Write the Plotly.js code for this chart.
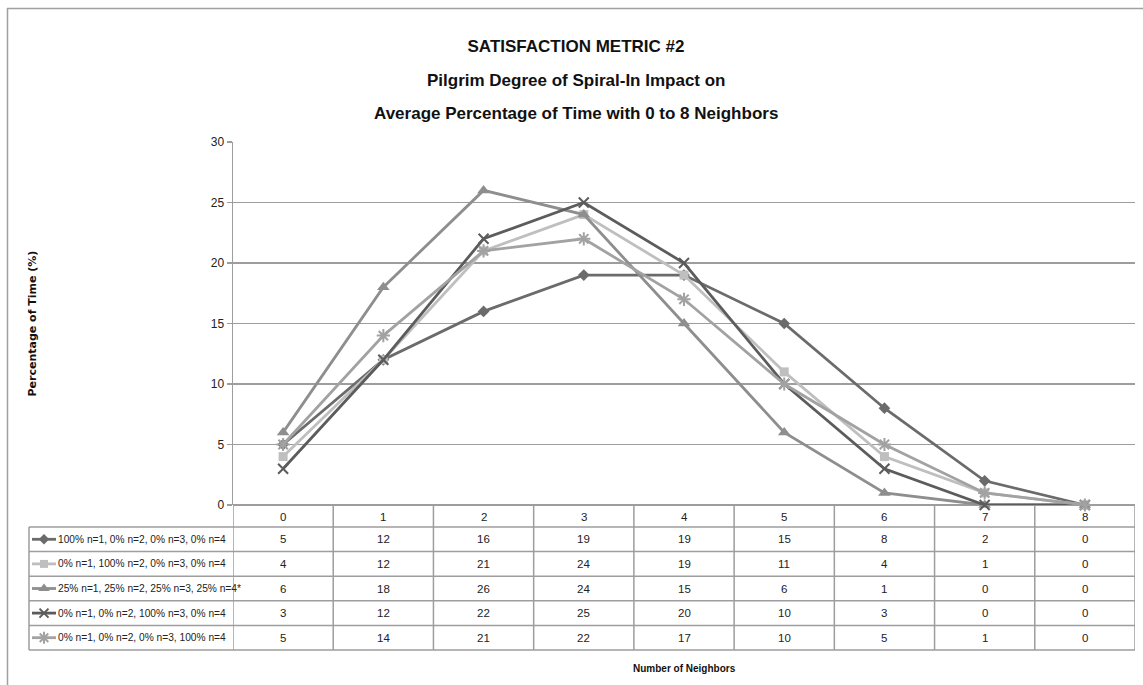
<!DOCTYPE html>
<html>
<head>
<meta charset="utf-8">
<script src="https://cdn.plot.ly/plotly-3.0.1.min.js"></script>
<style>html,body{margin:0;padding:0;background:#fff;}#chart{width:1143px;height:685px;}</style>
</head>
<body>
<div id="chart"></div>
<script>
// ---------- data ----------
const categories = [0, 1, 2, 3, 4, 5, 6, 7, 8];
const seriesNames = [
  "100% n=1, 0% n=2, 0% n=3, 0% n=4",
  "0% n=1, 100% n=2, 0% n=3, 0% n=4",
  "25% n=1, 25% n=2, 25% n=3, 25% n=4*",
  "0% n=1, 0% n=2, 100% n=3, 0% n=4",
  "0% n=1, 0% n=2, 0% n=3, 100% n=4"
];
const s1 = [5, 12, 16, 19, 19, 15, 8, 2, 0];
const s2 = [4, 12, 21, 24, 19, 11, 4, 1, 0];
const s3 = [6, 18, 26, 24, 15, 6, 1, 0, 0];
const s4 = [3, 12, 22, 25, 20, 10, 3, 0, 0];
const s5 = [5, 14, 21, 22, 17, 10, 5, 1, 0];
const yTicks = [0, 5, 10, 15, 20, 25, 30];
const titleLines = ["SATISFACTION METRIC #2", "Pilgrim Degree of Spiral-In Impact on", "Average Percentage of Time with 0 to 8 Neighbors"];
const xTitle = "Number of Neighbors";
const yTitle = "Percentage of Time (%)";

// ---------- styles ----------
const seriesValues = [s1, s2, s3, s4, s5];
const colors = ["#6b6b6b", "#bfbfbf", "#8e8e8e", "#5c5c5c", "#a2a2a2"];
const symbols = ["diamond", "square", "triangle-up", "x-thin-open", "asterisk-open"];
const sizes = [9, 9, 11, 10, 11];
const W = 1143, H = 685;
const PL = 233, PR = 1135, PT = 142, PB = 505;
const gridColor = "#9d9d9d";
const sans = "Liberation Sans, Arial, sans-serif";

function markerFor(i, size) {
  const open = symbols[i].indexOf("open") >= 0;
  return {
    symbol: symbols[i], size: size, color: colors[i],
    line: {color: colors[i], width: open ? 2 : 0}
  };
}

const traces = [];
seriesValues.forEach((vals, i) => {
  traces.push({
    type: "scatter", mode: "lines+markers", x: categories, y: vals,
    name: seriesNames[i], xaxis: "x", yaxis: "y",
    line: {color: colors[i], width: 2.8},
    marker: markerFor(i, sizes[i]),
    cliponaxis: false, hoverinfo: "x+y+name", showlegend: false
  });
});

// ---------- table geometry ----------
const headerBottom = 527;
const rowH = 24.6;
const tableLeft = 29;
const shapes = [];
const annotations = [];

// chart border (top/left)
shapes.push({type: "line", xref: "x2", yref: "y2", x0: 7, x1: W, y0: 8.5, y1: 8.5, line: {color: "#a0a0a0", width: 1.5}});
shapes.push({type: "line", xref: "x2", yref: "y2", x0: 7.5, x1: 7.5, y0: 8, y1: H, line: {color: "#a0a0a0", width: 1.5}});

// horizontal row lines
for (let r = 0; r <= seriesNames.length; r++) {
  const y = headerBottom + r * rowH;
  shapes.push({type: "line", xref: "x2", yref: "y2", x0: tableLeft, x1: PR, y0: y, y1: y, line: {color: gridColor, width: 1.5}});
}
// left border of legend column
shapes.push({type: "line", xref: "x2", yref: "y2", x0: tableLeft, x1: tableLeft, y0: headerBottom, y1: headerBottom + seriesNames.length * rowH, line: {color: gridColor, width: 1.5}});
// vertical column lines (category boundaries)
for (let c = 0; c <= categories.length; c++) {
  shapes.push({type: "line", xref: "x", yref: "y2", x0: c - 0.5, x1: c - 0.5, y0: PB, y1: headerBottom + seriesNames.length * rowH, line: {color: gridColor, width: 1.5}});
}

// cell values and legend labels
seriesValues.forEach((vals, i) => {
  const yc = headerBottom + (i + 0.5) * rowH;
  vals.forEach((v, c) => {
    annotations.push({xref: "x", yref: "y2", x: categories[c], y: yc, text: String(v), showarrow: false,
      font: {family: sans, size: 11.5, color: "#222"}, xanchor: "center", yanchor: "middle"});
  });
  annotations.push({xref: "x2", yref: "y2", x: 56, y: yc, text: seriesNames[i], showarrow: false,
    font: {family: sans, size: 10.2, color: "#222"}, xanchor: "left", yanchor: "middle"});
  // legend swatch line + marker
  shapes.push({type: "line", xref: "x2", yref: "y2", x0: 32, x1: 56, y0: yc, y1: yc, line: {color: colors[i], width: 2.8}});
  traces.push({
    type: "scatter", mode: "markers", x: [44], y: [yc], xaxis: "x2", yaxis: "y2",
    marker: markerFor(i, sizes[i] - 1), cliponaxis: false, hoverinfo: "skip", showlegend: false
  });
});

// header labels (categories)
categories.forEach((c) => {
  annotations.push({xref: "x", yref: "y2", x: c, y: (PB + headerBottom) / 2 + 1, text: String(c), showarrow: false,
    font: {family: sans, size: 11.5, color: "#222"}, xanchor: "center", yanchor: "middle"});
});

// subtitle lines
annotations.push({xref: "x2", yref: "y2", x: 576, y: 80, text: "<b>" + titleLines[1] + "</b>", showarrow: false,
  font: {family: sans, size: 17, color: "#111"}, xanchor: "center", yanchor: "middle"});
annotations.push({xref: "x2", yref: "y2", x: 576, y: 113, text: "<b>" + titleLines[2] + "</b>", showarrow: false,
  font: {family: sans, size: 17, color: "#111"}, xanchor: "center", yanchor: "middle"});
// axis titles
annotations.push({xref: "x2", yref: "y2", x: (PL + PR) / 2, y: 668, text: "<b>" + xTitle + "</b>", showarrow: false,
  font: {family: sans, size: 10, color: "#111"}, xanchor: "center", yanchor: "middle"});
annotations.push({xref: "x2", yref: "y2", x: 32, y: (PT + PB) / 2, text: "<b>" + yTitle + "</b>", showarrow: false, textangle: -90,
  font: {family: "DejaVu Sans, Verdana, sans-serif", size: 11, color: "#111"}, xanchor: "center", yanchor: "middle"});

const layout = {
  width: W, height: H,
  margin: {l: 0, r: 0, t: 0, b: 0, pad: 0},
  paper_bgcolor: "#ffffff", plot_bgcolor: "rgba(0,0,0,0)",
  showlegend: false,
  title: {text: "<b>" + titleLines[0] + "</b>", x: 576 / W, xanchor: "center", xref: "paper",
    y: 1 - 46 / H, yanchor: "middle", yref: "paper", font: {family: sans, size: 17, color: "#111"}},
  xaxis: {
    domain: [PL / W, PR / W], range: [-0.5, categories.length - 0.5], anchor: "y",
    showticklabels: false, ticks: "", showgrid: false, zeroline: false,
    showline: false, automargin: false, fixedrange: true
  },
  yaxis: {
    domain: [(H - PB) / H, (H - PT) / H], range: [0, 30], anchor: "x",
    tickvals: yTicks, ticktext: yTicks.map(String), ticks: "outside", ticklen: 5, tickcolor: gridColor, tickwidth: 1.5,
    showgrid: true, gridcolor: gridColor, gridwidth: 1.5, zeroline: true, zerolinecolor: gridColor, zerolinewidth: 1.5,
    showline: true, linecolor: gridColor, linewidth: 1.5, mirror: false,
    tickfont: {family: sans, size: 12, color: "#222"}, automargin: false, fixedrange: true
  },
  xaxis2: {domain: [0, 1], range: [0, W], anchor: "y2", visible: false, fixedrange: true},
  yaxis2: {domain: [0, 1], range: [H, 0], anchor: "x2", visible: false, fixedrange: true},
  shapes: shapes,
  annotations: annotations
};

Plotly.newPlot("chart", traces, layout, {displayModeBar: false, staticPlot: true});
</script>
</body>
</html>
